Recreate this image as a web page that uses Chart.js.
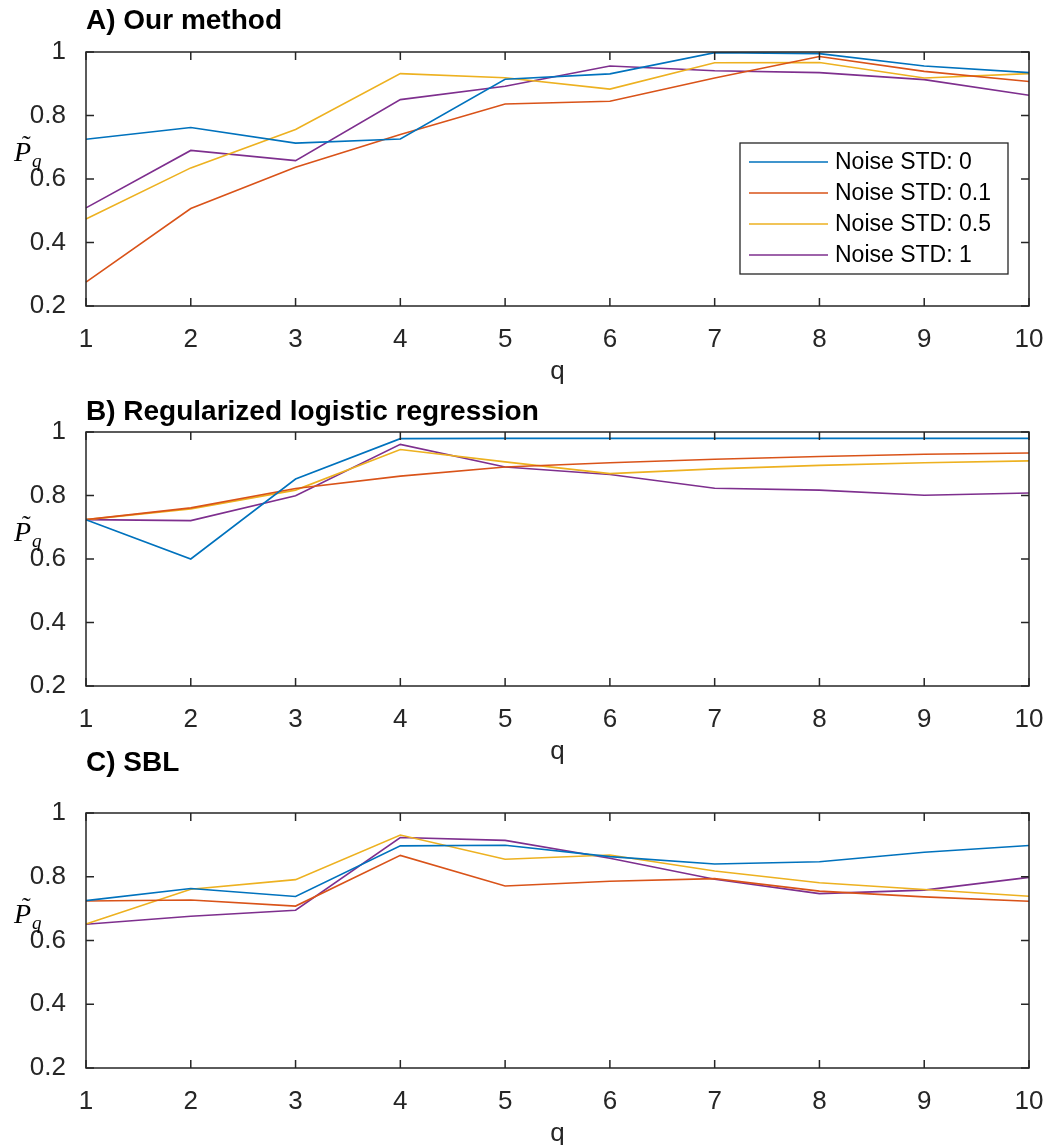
<!DOCTYPE html>
<html>
<head>
<meta charset="utf-8">
<script src="https://cdn.jsdelivr.net/npm/chart.js@4.4.0/dist/chart.umd.min.js"></script>
<style>
  body { margin: 0; background: #fff; width: 1060px; height: 1145px; overflow: hidden; position: relative; }
  .panel { position: absolute; left: 0; width: 1060px; }
</style>
</head>
<body>
<div class="panel" style="top:0px;height:400px"><canvas id="chartA"></canvas></div>
<div class="panel" style="top:380px;height:400px"><canvas id="chartB"></canvas></div>
<div class="panel" style="top:740px;height:422px"><canvas id="chartC"></canvas></div>
<script>
// x values and tick labels
const qValues = [1, 2, 3, 4, 5, 6, 7, 8, 9, 10];
const yTickValues = [0.2, 0.4, 0.6, 0.8, 1];
const seriesLabels = ['Noise STD: 0', 'Noise STD: 0.1', 'Noise STD: 0.5', 'Noise STD: 1'];
const seriesColors = ['#0072BD', '#D95319', '#EDB120', '#7E2F8E'];

// A) Our method
const ourStd0  = [0.725, 0.762, 0.713, 0.726, 0.914, 0.931, 0.998, 0.995, 0.956, 0.935];
const ourStd01 = [0.275, 0.507, 0.637, 0.740, 0.836, 0.845, 0.918, 0.986, 0.939, 0.907];
const ourStd05 = [0.474, 0.635, 0.756, 0.932, 0.919, 0.883, 0.966, 0.967, 0.918, 0.932];
const ourStd1  = [0.509, 0.690, 0.658, 0.850, 0.892, 0.956, 0.941, 0.935, 0.913, 0.864];

// B) Regularized logistic regression
const lrStd0  = [0.724, 0.600, 0.852, 0.979, 0.980, 0.980, 0.980, 0.980, 0.980, 0.980];
const lrStd01 = [0.724, 0.761, 0.822, 0.861, 0.890, 0.903, 0.914, 0.923, 0.930, 0.934];
const lrStd05 = [0.724, 0.758, 0.817, 0.945, 0.906, 0.869, 0.884, 0.895, 0.903, 0.909];
const lrStd1  = [0.724, 0.721, 0.799, 0.961, 0.890, 0.866, 0.823, 0.817, 0.801, 0.808];

// C) SBL
const sblStd0  = [0.725, 0.763, 0.738, 0.897, 0.899, 0.863, 0.840, 0.847, 0.877, 0.898];
const sblStd01 = [0.724, 0.727, 0.708, 0.867, 0.771, 0.786, 0.794, 0.755, 0.737, 0.723];
const sblStd05 = [0.652, 0.761, 0.791, 0.931, 0.855, 0.868, 0.818, 0.781, 0.760, 0.739];
const sblStd1  = [0.651, 0.676, 0.695, 0.923, 0.914, 0.858, 0.792, 0.747, 0.758, 0.798];

const axisColor = '#262626';
const sans = '"Liberation Sans", Arial, sans-serif';

// matlab style box, inward ticks on all sides, legend and y label
const matlabBox = {
  id: 'matlabBox',
  afterDatasetsDraw(chart, args, opts) {
    const { ctx, chartArea: a, scales: { x, y } } = chart;
    ctx.save();

    if (opts.legend) {
      const lx = a.right - 289, ly = a.top + 91;
      ctx.fillStyle = '#fff';
      ctx.fillRect(lx, ly, 268, 131);
      ctx.strokeStyle = axisColor;
      ctx.lineWidth = 1.3;
      ctx.strokeRect(lx, ly, 268, 131);
      ctx.font = '23px ' + sans;
      ctx.textBaseline = 'middle';
      ctx.textAlign = 'left';
      chart.data.datasets.forEach((ds, i) => {
        const cy = ly + 19 + i * 31;
        ctx.strokeStyle = ds.borderColor;
        ctx.lineWidth = 1.6;
        ctx.beginPath();
        ctx.moveTo(lx + 9, cy);
        ctx.lineTo(lx + 88, cy);
        ctx.stroke();
        ctx.fillStyle = '#000';
        ctx.fillText(ds.label, lx + 95, cy + 1);
      });
    }

    ctx.strokeStyle = axisColor;
    ctx.lineWidth = 1.5;
    ctx.strokeRect(a.left, a.top, a.width, a.height);
    ctx.beginPath();
    x.ticks.forEach((t, i) => {
      const px = x.getPixelForTick(i);
      ctx.moveTo(px, a.bottom); ctx.lineTo(px, a.bottom - 8);
      ctx.moveTo(px, a.top); ctx.lineTo(px, a.top + 8);
    });
    y.ticks.forEach(t => {
      const py = y.getPixelForValue(t.value);
      ctx.moveTo(a.left, py); ctx.lineTo(a.left + 8, py);
      ctx.moveTo(a.right, py); ctx.lineTo(a.right - 8, py);
    });
    ctx.stroke();

    // y label: P tilde with subscript q
    const cy = (a.top + a.bottom) / 2;
    ctx.fillStyle = '#000';
    ctx.textAlign = 'left';
    ctx.textBaseline = 'alphabetic';
    ctx.font = 'italic 28px "Liberation Serif", serif';
    ctx.fillText('P', 14, cy - 18);
    ctx.font = '26px "Liberation Serif", serif';
    ctx.fillText('\u02DC', 22, cy - 26);
    ctx.font = 'italic 19px "Liberation Serif", serif';
    ctx.fillText('q', 32, cy - 12);
    ctx.restore();
  }
};

function makeChart(id, title, titlePad, series, showLegend) {
  return new Chart(document.getElementById(id), {
    type: 'line',
    data: {
      labels: qValues,
      datasets: series.map((values, i) => ({
        label: seriesLabels[i],
        data: values,
        borderColor: seriesColors[i],
        backgroundColor: seriesColors[i],
        borderWidth: 1.6,
        pointRadius: 0,
        tension: 0,
        fill: false
      }))
    },
    options: {
      responsive: true,
      maintainAspectRatio: false,
      animation: false,
      layout: { padding: { left: 0, right: 31, top: 0, bottom: 0 } },
      plugins: {
        legend: { display: false },
        tooltip: { enabled: false },
        title: {
          display: true,
          text: title,
          align: 'start',
          fullSize: false,
          color: '#000',
          font: { family: sans, size: 28, weight: 'bold' },
          padding: titlePad
        },
        matlabBox: { legend: showLegend }
      },
      scales: {
        x: {
          offset: false,
          grid: { display: false },
          border: { display: false },
          ticks: { color: axisColor, font: { family: sans, size: 26 }, padding: 10, maxRotation: 0, autoSkip: false },
          title: { display: true, text: 'q', color: axisColor, font: { family: sans, size: 26 }, padding: { top: 0, bottom: 12.4 } },
          afterFit(scale) { scale.height = 94; }
        },
        y: {
          min: 0.2,
          max: 1,
          afterBuildTicks(scale) { scale.ticks = yTickValues.map(v => ({ value: v })); },
          grid: { display: false },
          border: { display: false },
          ticks: {
            color: axisColor,
            font: { family: sans, size: 26 },
            padding: 12,
            callback: v => (v === 1 ? '1' : v.toFixed(1))
          },
          afterFit(scale) { scale.width = 86; }
        }
      }
    },
    plugins: [matlabBox]
  });
}

makeChart('chartA', 'A) Our method', { top: 4.2, bottom: 14.2 },
  [ourStd0, ourStd01, ourStd05, ourStd1], true);
makeChart('chartB', 'B) Regularized logistic regression', { top: 15.2, bottom: 3.2 },
  [lrStd0, lrStd01, lrStd05, lrStd1], false);
makeChart('chartC', 'C) SBL', { top: 6.2, bottom: 33.2 },
  [sblStd0, sblStd01, sblStd05, sblStd1], false);
</script>
</body>
</html>
